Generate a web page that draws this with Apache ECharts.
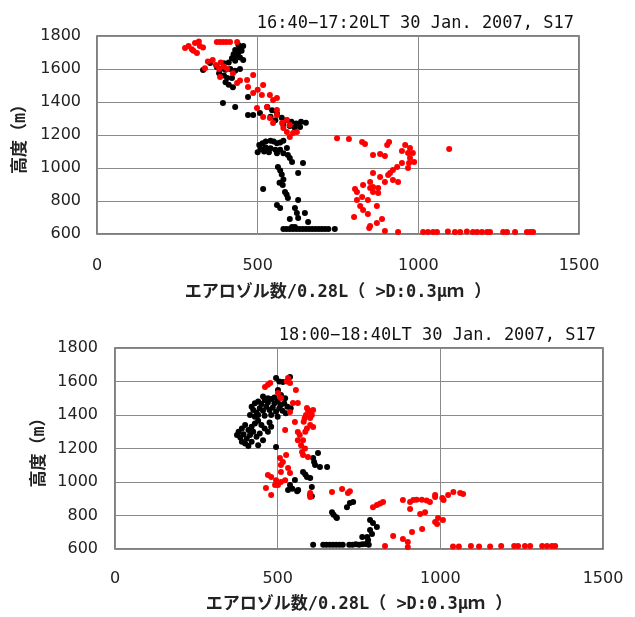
<!DOCTYPE html>
<html>
<head>
<meta charset="utf-8">
<script src="https://cdn.jsdelivr.net/npm/echarts@6/dist/echarts.min.js"></script>
<style>html,body{margin:0;padding:0;background:#fff;}#c{width:635px;height:617px;}</style>
</head>
<body>
<div id="c"></div>
<script>
const titles = ['16:40−17:20LT 30 Jan. 2007, S17', '18:00−18:40LT 30 Jan. 2007, S17'];
const xName = 'エアロゾル数/0.28L（ >D:0.3μｍ ）';
const yName = '高度（m）';
const xTicks = [0, 500, 1000, 1500];
const yTicks = [600, 800, 1000, 1200, 1400, 1600, 1800];

const topBlack = [
[440,1745],[455,1740],[445,1725],[430,1715],[450,1710],[440,1700],[425,1690],[435,1680],[420,1665],[445,1670],[455,1655],[430,1650],[410,1640],[395,1635],[352,1636],[330,1594],[373,1612],[385,1600],[400,1595],[415,1600],[430,1590],[445,1600],[380,1575],[395,1560],[405,1545],[420,1545],[400,1520],[410,1505],[423,1490],[392,1394],[430,1370],[470,1430],[470,1321],[486,1321],[507,1333],[530,1370],[545,1350],[560,1330],[540,1310],[555,1290],[575,1305],[590,1290],[605,1280],[620,1270],[635,1280],[650,1275],[600,1255],[615,1245],[632,1248],[580,1260],
[505,1140],[515,1150],[525,1160],[540,1165],[550,1160],[560,1150],[570,1155],[580,1165],[510,1115],[525,1125],[540,1120],[555,1110],[570,1110],[500,1095],[520,1100],[535,1095],[560,1090],[580,1090],[591,1121],[594,1079],[600,1060],[607,1036],[641,1030],
[563,1006],[570,985],[575,960],[580,930],[568,910],[578,897],[626,970],[517,873],[585,855],[590,840],[594,818],[626,806],[560,776],[570,758],[616,758],[622,727],[647,727],[600,691],[626,697],[657,673],[607,642],[616,642],
[580,630],[590,630],[600,630],[610,630],[620,630],[630,630],[640,630],[650,630],[660,630],[670,630],[680,630],[690,630],[700,630],[710,630],[720,630],[740,630]
];
const topRed = [
[274,1727],[285,1740],[295,1720],[305,1757],[317,1767],[320,1740],[311,1697],[300,1710],[330,1730],[373,1763],[383,1763],[393,1763],[403,1763],[414,1763],[436,1763],[336,1605],[345,1645],[360,1655],[370,1625],[385,1640],[395,1615],[405,1600],[380,1600],[383,1552],[423,1575],[436,1515],[445,1530],[467,1533],[486,1564],[470,1491],[486,1455],[500,1475],[517,1503],[513,1442],[538,1442],[548,1412],[560,1424],[498,1364],[529,1370],[560,1352],[517,1309],[538,1303],[560,1321],[548,1273],[576,1273],[591,1291],[580,1242],[591,1218],[600,1188],[610,1212],[622,1218],[600,1260],
[747,1181],[784,1176],[825,1158],[834,1145],[859,1079],[881,1085],[896,1073],[903,1139],[909,1158],[949,1103],[959,1139],[974,1121],[968,1091],[983,1091],[974,1061],[987,1036],[971,1030],[968,1000],[949,1030],[934,1006],[921,988],[912,970],[906,958],[921,927],[937,915],[859,970],[881,945],[896,915],[850,915],[828,897],[850,879],[859,885],[875,879],[803,873],[809,855],[875,848],[859,855],[825,824],[809,806],[843,806],[819,770],[871,770],[828,745],[843,721],[800,703],[887,691],[871,667],[850,648],[847,636],[896,618],[937,612],[1096,1115],
[1015,612],[1030,612],[1046,612],[1058,612],[1092,615],[1114,612],[1130,612],[1151,615],[1170,612],[1183,612],[1198,612],[1214,612],[1223,612],[1264,612],[1276,612],[1301,612],[1338,612],[1348,612],[1357,612]
];
const bottomBlack = [
[495,1621],[516,1597],[538,1627],[505,1600],[501,1549],[510,1520],[523,1500],
[420,1450],[430,1470],[440,1480],[450,1465],[460,1490],[470,1475],[480,1495],[490,1470],[500,1480],[510,1460],[520,1470],[530,1450],[540,1440],[425,1430],[435,1415],[445,1440],[455,1425],[465,1450],[475,1430],[485,1445],[495,1420],[505,1440],[515,1425],[525,1410],[440,1400],[460,1395],[480,1400],[500,1390],[470,1500],[490,1505],[455,1510],[415,1400],[430,1390],
[380,1300],[390,1320],[400,1340],[410,1310],[420,1330],[430,1350],[440,1365],[450,1340],[460,1320],[470,1300],[480,1330],[375,1280],[385,1265],[395,1285],[405,1260],[415,1280],[425,1300],[435,1270],[445,1290],[455,1250],[400,1230],[410,1215],[390,1240],[420,1240],[440,1220],[475,1355],
[495,1209],[624,1173],[609,1143],[612,1120],[615,1101],[630,1090],[652,1090],[578,1060],[585,1045],[590,1030],[605,970],[600,1024],[553,1012],[538,982],[545,960],[560,945],[532,952],[563,952],[600,922],[605,915],[667,820],[672,805],[680,790],[682,785],[713,850],[722,875],[732,880],[784,773],[793,755],[805,731],[784,713],[775,672],[760,672],[778,654],[790,690],
[609,625],[640,625],[650,625],[660,625],[670,625],[680,625],[690,625],[700,625],[720,625],[730,625],[740,628],[750,625],[760,628],[770,630],[780,625]
];
const bottomRed = [
[461,1567],[477,1591],[470,1580],[532,1621],[538,1591],[528,1600],[501,1531],[510,1502],[556,1549],[547,1472],[562,1472],[538,1418],[593,1430],[609,1430],[587,1400],[600,1382],[553,1358],[600,1340],[523,1310],[562,1298],[568,1280],[578,1250],[562,1250],[572,1220],[584,1200],[575,1179],[578,1161],[593,1150],[526,1161],[507,1143],[516,1120],[510,1101],[532,1083],[538,1054],[510,1060],[470,1042],[480,1030],[495,1010],[510,1000],[523,1010],[492,982],[501,982],[464,964],[480,922],[600,934],[600,910],[590,1442],[600,1420],[605,1400],[609,1328],[585,1300],[590,1320],[580,1360],[583,1380],
[667,940],[698,958],[716,934],[722,945],[793,850],[805,863],[815,872],[824,880],
[885,893],[907,880],[917,893],[927,894],[943,894],[958,890],[968,880],[984,910],[984,922],[1006,904],[1010,893],[1024,922],[1040,940],[1061,934],[1070,928],
[907,839],[938,809],[953,820],[984,761],[990,749],[993,785],[1008,773],[944,719],[913,701],[855,678],[885,660],[900,642],[900,612],[830,618],
[1039,615],[1057,615],[1094,618],[1119,615],[1153,615],[1187,618],[1227,618],[1239,618],[1260,618],[1276,618],[1313,618],[1328,618],[1343,618],[1353,618]
];

const labelFont = {fontFamily: 'DejaVu Sans', fontSize: 16, color: '#222'};
const nameFont = {fontFamily: "'DejaVu Sans Mono', 'Noto Sans CJK JP'", fontSize: 17, fontWeight: 'bold', color: '#222'};
const fmt = v => String(v);

function xAx(gi, margin, gap) {
  return {
    gridIndex: gi, type: 'value', min: xTicks[0], max: xTicks[xTicks.length-1], interval: 500,
    name: xName, nameLocation: 'middle', nameGap: gap, nameTextStyle: nameFont, nameMoveOverlap: false,
    axisLine: {show: false}, axisTick: {show: false},
    axisLabel: Object.assign({margin: margin, formatter: fmt}, labelFont),
    splitLine: {show: true, lineStyle: {color: '#8a8a8a', width: 1}}
  };
}
function yAx(gi, margin, gap) {
  return {
    gridIndex: gi, type: 'value', min: yTicks[0], max: yTicks[yTicks.length-1], interval: 200,
    name: yName, nameLocation: 'middle', nameGap: gap, nameRotate: 90, nameTextStyle: nameFont, nameMoveOverlap: false,
    axisLine: {show: false}, axisTick: {show: false},
    axisLabel: Object.assign({margin: margin, formatter: fmt}, labelFont),
    splitLine: {show: true, lineStyle: {color: '#8a8a8a', width: 1}}
  };
}
function sc(xi, data, color) {
  return {type: 'scatter', xAxisIndex: xi, yAxisIndex: xi, data: data, symbolSize: 6,
    itemStyle: {color: color, opacity: 1}, silent: true, animation: false};
}
const chart = echarts.init(document.getElementById('c'));
chart.setOption({
  animation: false,
  backgroundColor: '#fff',
  title: [
    {text: titles[0], right: 56, top: 10, textStyle: {fontFamily: 'DejaVu Sans Mono', fontSize: 17, fontWeight: 'normal', color: '#111'}},
    {text: titles[1], right: 34, top: 322, textStyle: {fontFamily: 'DejaVu Sans Mono', fontSize: 17, fontWeight: 'normal', color: '#111'}}
  ],
  grid: [
    {left: 97, top: 36, width: 482, height: 198, show: true, borderColor: '#555', borderWidth: 1.5, backgroundColor: 'transparent', outerBoundsMode: 'none', containLabel: false},
    {left: 115, top: 348, width: 488, height: 201, show: true, borderColor: '#555', borderWidth: 1.5, backgroundColor: 'transparent', outerBoundsMode: 'none', containLabel: false}
  ],
  xAxis: [xAx(0, 24, 50), xAx(1, 22, 47)],
  yAxis: [yAx(0, 16, 68), yAx(1, 17, 67)],
  series: [
    sc(0, topBlack, '#000'), sc(0, topRed, '#ff0000'),
    sc(1, bottomBlack, '#000'), sc(1, bottomRed, '#ff0000')
  ]
});
</script>
</body>
</html>
